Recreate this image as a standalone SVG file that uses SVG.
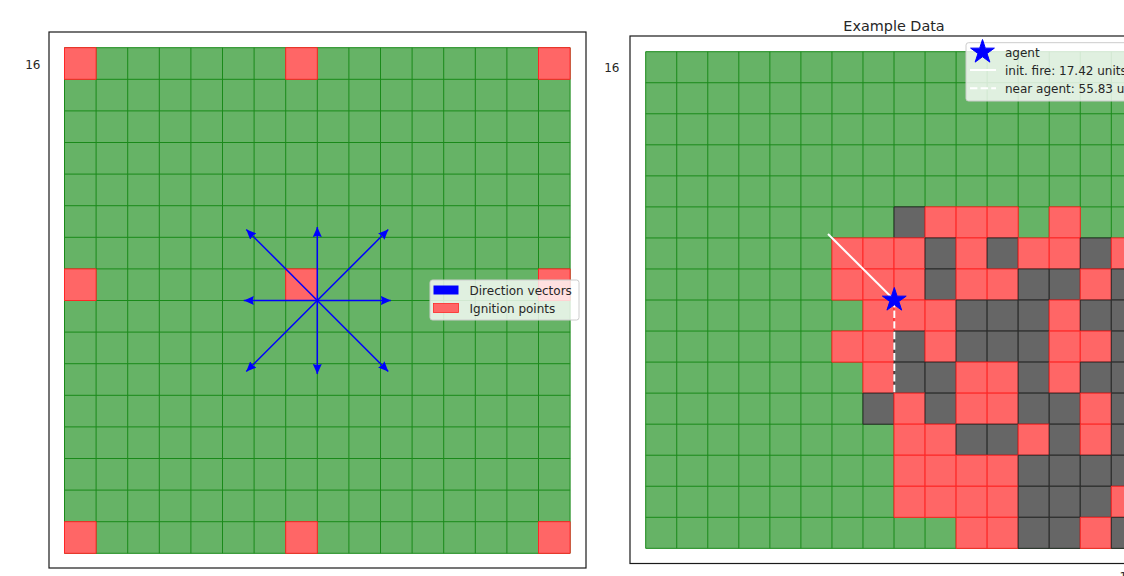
<svg xmlns="http://www.w3.org/2000/svg" width="1124" height="576" viewBox="0 0 1124 576">
<style>
text{font-family:"DejaVu Sans","Liberation Sans",sans-serif;fill:#262626}
.cell{vector-effect:non-scaling-stroke;stroke-width:1}
.gbg{fill:#66b366}
.gl{fill:none;stroke:#1a8a1a;stroke-width:1;vector-effect:non-scaling-stroke}
.r{fill:#ff6666;stroke:#ff2626;stroke-width:1;vector-effect:non-scaling-stroke}
.k{fill:#666666;stroke:#2a2a2a;stroke-width:1;vector-effect:non-scaling-stroke}
.frame{fill:none;stroke:#1a1a1a;stroke-width:1.2}
.leg{fill:#ffffff;fill-opacity:0.8;stroke:#cccccc;stroke-width:1}
.arr{stroke:#0000ff;stroke-width:1.5;marker-end:url(#ah)}
</style>
<defs>
<marker id="ah" viewBox="0 0 10 9" refX="10" refY="4.5" markerWidth="10" markerHeight="9" markerUnits="userSpaceOnUse" orient="auto">
<path d="M0,0 L10,4.5 L0,9 L1.2,4.5 Z" fill="#0000ff"/>
</marker>
<path id="star" d="M0,-12.5 L2.807,-3.863 L11.888,-3.863 L4.541,1.476 L7.347,10.113 L0,4.775 L-7.347,10.113 L-4.541,1.476 L-11.888,-3.863 L-2.807,-3.863 Z" fill="#0000ff" stroke="#0000ff" stroke-width="1"/>
<path id="grid" class="gl" d="M0,0V16M1,0V16M2,0V16M3,0V16M4,0V16M5,0V16M6,0V16M7,0V16M8,0V16M9,0V16M10,0V16M11,0V16M12,0V16M13,0V16M14,0V16M15,0V16M16,0V16M0,0H16M0,1H16M0,2H16M0,3H16M0,4H16M0,5H16M0,6H16M0,7H16M0,8H16M0,9H16M0,10H16M0,11H16M0,12H16M0,13H16M0,14H16M0,15H16M0,16H16"/>
</defs>
<rect width="1124" height="576" fill="#ffffff"/>

<!-- Left panel -->
<g id="left-panel">
<rect class="frame" x="49" y="32" width="537" height="536"/>
<text x="40.5" y="68.5" font-size="12" text-anchor="end">16</text>
<g id="left-grid" transform="translate(64.5,47.7) scale(31.6)">
<rect class="gbg" x="0" y="0" width="16" height="16"/>
<use href="#grid"/>
<rect class="r" x="0" y="0" width="1" height="1"/>
<rect class="r" x="7" y="0" width="1" height="1"/>
<rect class="r" x="15" y="0" width="1" height="1"/>
<rect class="r" x="0" y="7" width="1" height="1"/>
<rect class="r" x="7" y="7" width="1" height="1"/>
<rect class="r" x="15" y="7" width="1" height="1"/>
<rect class="r" x="0" y="15" width="1" height="1"/>
<rect class="r" x="7" y="15" width="1" height="1"/>
<rect class="r" x="15" y="15" width="1" height="1"/>
</g>
<g id="arrows">
<line class="arr" x1="317.3" y1="300.5" x2="390.8" y2="300.5"/>
<line class="arr" x1="317.3" y1="300.5" x2="243.8" y2="300.5"/>
<line class="arr" x1="317.3" y1="300.5" x2="317.3" y2="227"/>
<line class="arr" x1="317.3" y1="300.5" x2="317.3" y2="374"/>
<line class="arr" x1="317.3" y1="300.5" x2="388.3" y2="229.5"/>
<line class="arr" x1="317.3" y1="300.5" x2="246.3" y2="229.5"/>
<line class="arr" x1="317.3" y1="300.5" x2="246.3" y2="371.5"/>
<line class="arr" x1="317.3" y1="300.5" x2="388.3" y2="371.5"/>
</g>
<g id="left-legend">
<rect class="leg" x="430" y="280" width="149" height="40" rx="2.5"/>
<rect x="433.5" y="285.5" width="25" height="9" fill="#0000ff"/>
<rect x="433.5" y="303.5" width="25" height="9" fill="#ff6666" stroke="#ff2626" stroke-width="0.8"/>
<text x="469.5" y="294.8" font-size="12">Direction vectors</text>
<text x="469.5" y="312.8" font-size="12">Ignition points</text>
</g>
</g>

<!-- Right panel -->
<g id="right-panel">
<text x="894" y="31" font-size="14.4" text-anchor="middle">Example Data</text>
<rect class="frame" x="630" y="36" width="528" height="527.5"/>
<text x="619.5" y="72" font-size="12" text-anchor="end">16</text>
<text x="1119.5" y="581" font-size="12">1</text>
<g id="right-grid" transform="translate(645.7,51.7) scale(31.04)">
<rect class="gbg" x="0" y="0" width="16" height="16"/>
<use href="#grid"/>
<rect class="k" x="8" y="5" width="1" height="1"/>
<rect class="r" x="9" y="5" width="1" height="1"/>
<rect class="r" x="10" y="5" width="1" height="1"/>
<rect class="r" x="11" y="5" width="1" height="1"/>
<rect class="r" x="13" y="5" width="1" height="1"/>

<rect class="r" x="6" y="6" width="1" height="1"/>
<rect class="r" x="7" y="6" width="1" height="1"/>
<rect class="r" x="8" y="6" width="1" height="1"/>
<rect class="k" x="9" y="6" width="1" height="1"/>
<rect class="r" x="10" y="6" width="1" height="1"/>
<rect class="k" x="11" y="6" width="1" height="1"/>
<rect class="r" x="12" y="6" width="1" height="1"/>
<rect class="r" x="13" y="6" width="1" height="1"/>
<rect class="k" x="14" y="6" width="1" height="1"/>
<rect class="r" x="15" y="6" width="1" height="1"/>

<rect class="r" x="6" y="7" width="1" height="1"/>
<rect class="r" x="7" y="7" width="1" height="1"/>
<rect class="r" x="8" y="7" width="1" height="1"/>
<rect class="k" x="9" y="7" width="1" height="1"/>
<rect class="r" x="10" y="7" width="1" height="1"/>
<rect class="r" x="11" y="7" width="1" height="1"/>
<rect class="k" x="12" y="7" width="1" height="1"/>
<rect class="k" x="13" y="7" width="1" height="1"/>
<rect class="r" x="14" y="7" width="1" height="1"/>
<rect class="k" x="15" y="7" width="1" height="1"/>

<rect class="r" x="7" y="8" width="1" height="1"/>
<rect class="r" x="8" y="8" width="1" height="1"/>
<rect class="r" x="9" y="8" width="1" height="1"/>
<rect class="k" x="10" y="8" width="1" height="1"/>
<rect class="k" x="11" y="8" width="1" height="1"/>
<rect class="k" x="12" y="8" width="1" height="1"/>
<rect class="r" x="13" y="8" width="1" height="1"/>
<rect class="k" x="14" y="8" width="1" height="1"/>
<rect class="k" x="15" y="8" width="1" height="1"/>

<rect class="r" x="6" y="9" width="1" height="1"/>
<rect class="r" x="7" y="9" width="1" height="1"/>
<rect class="k" x="8" y="9" width="1" height="1"/>
<rect class="r" x="9" y="9" width="1" height="1"/>
<rect class="k" x="10" y="9" width="1" height="1"/>
<rect class="k" x="11" y="9" width="1" height="1"/>
<rect class="k" x="12" y="9" width="1" height="1"/>
<rect class="r" x="13" y="9" width="1" height="1"/>
<rect class="r" x="14" y="9" width="1" height="1"/>
<rect class="k" x="15" y="9" width="1" height="1"/>

<rect class="r" x="7" y="10" width="1" height="1"/>
<rect class="k" x="8" y="10" width="1" height="1"/>
<rect class="k" x="9" y="10" width="1" height="1"/>
<rect class="r" x="10" y="10" width="1" height="1"/>
<rect class="r" x="11" y="10" width="1" height="1"/>
<rect class="k" x="12" y="10" width="1" height="1"/>
<rect class="r" x="13" y="10" width="1" height="1"/>
<rect class="k" x="14" y="10" width="1" height="1"/>
<rect class="k" x="15" y="10" width="1" height="1"/>

<rect class="k" x="7" y="11" width="1" height="1"/>
<rect class="r" x="8" y="11" width="1" height="1"/>
<rect class="k" x="9" y="11" width="1" height="1"/>
<rect class="r" x="10" y="11" width="1" height="1"/>
<rect class="r" x="11" y="11" width="1" height="1"/>
<rect class="k" x="12" y="11" width="1" height="1"/>
<rect class="k" x="13" y="11" width="1" height="1"/>
<rect class="r" x="14" y="11" width="1" height="1"/>
<rect class="k" x="15" y="11" width="1" height="1"/>

<rect class="r" x="8" y="12" width="1" height="1"/>
<rect class="r" x="9" y="12" width="1" height="1"/>
<rect class="k" x="10" y="12" width="1" height="1"/>
<rect class="k" x="11" y="12" width="1" height="1"/>
<rect class="r" x="12" y="12" width="1" height="1"/>
<rect class="k" x="13" y="12" width="1" height="1"/>
<rect class="r" x="14" y="12" width="1" height="1"/>
<rect class="k" x="15" y="12" width="1" height="1"/>

<rect class="r" x="8" y="13" width="1" height="1"/>
<rect class="r" x="9" y="13" width="1" height="1"/>
<rect class="r" x="10" y="13" width="1" height="1"/>
<rect class="r" x="11" y="13" width="1" height="1"/>
<rect class="k" x="12" y="13" width="1" height="1"/>
<rect class="k" x="13" y="13" width="1" height="1"/>
<rect class="k" x="14" y="13" width="1" height="1"/>
<rect class="k" x="15" y="13" width="1" height="1"/>

<rect class="r" x="8" y="14" width="1" height="1"/>
<rect class="r" x="9" y="14" width="1" height="1"/>
<rect class="r" x="10" y="14" width="1" height="1"/>
<rect class="r" x="11" y="14" width="1" height="1"/>
<rect class="k" x="12" y="14" width="1" height="1"/>
<rect class="k" x="13" y="14" width="1" height="1"/>
<rect class="k" x="14" y="14" width="1" height="1"/>
<rect class="r" x="15" y="14" width="1" height="1"/>

<rect class="r" x="10" y="15" width="1" height="1"/>
<rect class="r" x="11" y="15" width="1" height="1"/>
<rect class="k" x="12" y="15" width="1" height="1"/>
<rect class="k" x="13" y="15" width="1" height="1"/>
<rect class="r" x="14" y="15" width="1" height="1"/>
<rect class="k" x="15" y="15" width="1" height="1"/>
</g>
<g id="paths">
<line x1="828" y1="234" x2="894.3" y2="300" stroke="#ffffff" stroke-width="2"/>
<line x1="894.3" y1="300" x2="894.3" y2="393" stroke="#ffffff" stroke-width="2" stroke-dasharray="7.4 3.2"/>
</g>
<g id="agent">
<use href="#star" x="894.3" y="300"/>
</g>
<g id="right-legend">
<rect class="leg" x="966" y="42.7" width="200" height="58.3" rx="2.5"/>
<use href="#star" x="982.5" y="52"/>
<line x1="970" y1="70" x2="996" y2="70" stroke="#ffffff" stroke-width="2"/>
<line x1="970" y1="88.3" x2="996" y2="88.3" stroke="#ffffff" stroke-width="2" stroke-dasharray="7.4 3.2"/>
<text x="1005" y="56.7" font-size="12">agent</text>
<text x="1005" y="75" font-size="12">init. fire: 17.42 units</text>
<text x="1005" y="93.3" font-size="12">near agent: 55.83 units</text>
</g>
</g>
</svg>
